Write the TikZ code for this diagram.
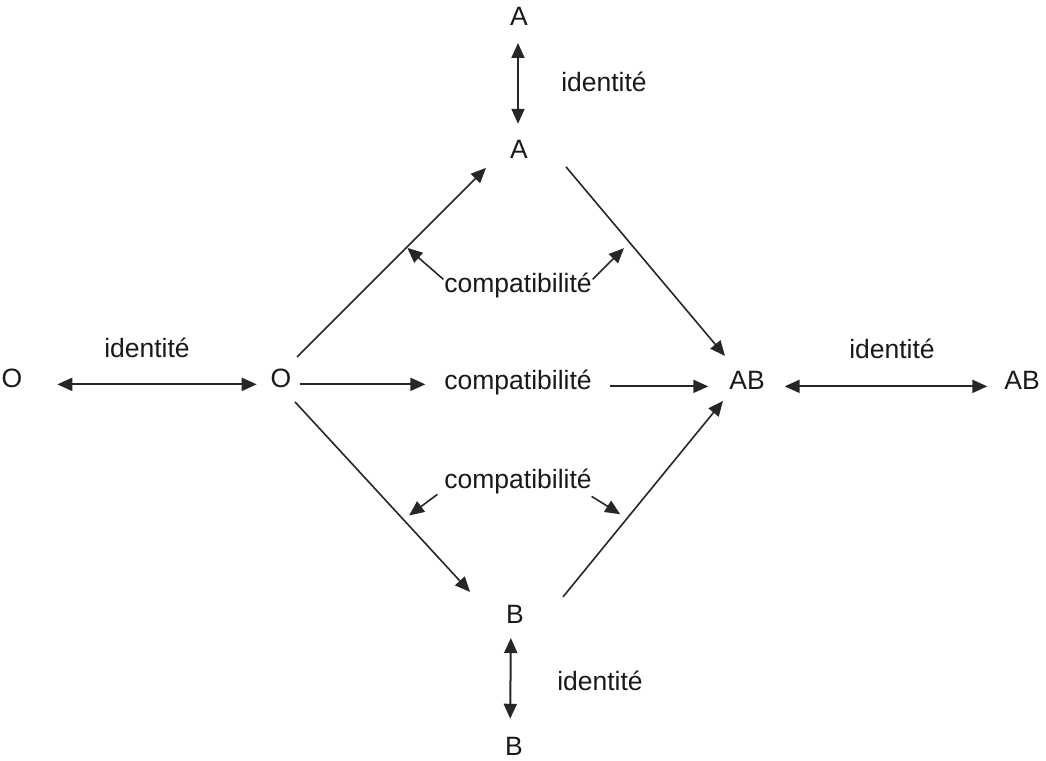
\documentclass[tikz,border=0pt]{standalone}
\usepackage{fontspec}
\setmainfont{Liberation Sans}
\usetikzlibrary{arrows.meta}
\begin{document}
\begin{tikzpicture}[x=1pt,y=-1pt,
  lbl/.style={inner sep=0pt, outer sep=0pt, anchor=base, font=\fontsize{26.5}{30}\selectfont, text=black!90},
  tip/.style={-{Triangle[length=15pt,width=13pt]}},
  dtip/.style={{Triangle[length=15pt,width=13pt]}-{Triangle[length=15pt,width=13pt]}},
  ln/.style={draw=black!85, line width=1.6pt},
  idl/.style={draw=black!85, line width=2pt},
]
\useasboundingbox (0,0) rectangle (1046,760);
% nodes
\node[lbl] (At) at (519,26) {A};
\node[lbl] (Am) at (519,158) {A};
\node[lbl] (Ol) at (12,387) {O};
\node[lbl] (Oc) at (281,387) {O};
\node[lbl] (cm) at (518,389) {compatibilité};
\node[lbl] (ABl) at (747,389) {AB};
\node[lbl] (ABr) at (1022,389) {AB};
\node[lbl] (Bm) at (515,623) {B};
\node[lbl] (Bb) at (514,755) {B};
\node[lbl] (cu) at (518,292) {compatibilité};
\node[lbl] (cl) at (518,488) {compatibilité};
\node[lbl] (it) at (604,92) {identité};
\node[lbl] (il) at (147,357) {identité};
\node[lbl] (ir) at (892,358) {identité};
\node[lbl] (ib) at (600,690) {identité};
% identity arrows
\draw[idl,dtip,shorten <=17pt,shorten >=16pt] ([xshift=-1pt]At.south) -- ([xshift=-1pt]Am.north);
\draw[idl,dtip,shorten <=15pt,shorten >=18pt] ([xshift=-4pt]Bm.south) -- ([xshift=-4pt]Bb.north);
\draw[idl,dtip,shorten <=35pt,shorten >=14pt] (Ol.mid east) -- (Oc.mid west);
\draw[idl,dtip,shorten <=20pt,shorten >=17pt] (ABl.mid east) -- (ABr.mid west);
% middle row
\draw[idl,tip,shorten <=9pt,shorten >=19pt] (Oc.mid east) -- (Oc.mid east -| cm.west);
\draw[idl,tip,shorten <=18pt,shorten >=21pt] (ABl.mid west -| cm.east) -- (ABl.mid west);
% diagonals
\draw[ln,tip] ([shift={(16,-21)}]Oc.center) -- coordinate[pos=0.58] (ua) ([shift={(-33,19)}]Am.center);
\draw[ln,tip] ([shift={(47,18)}]Am.center) -- coordinate[pos=0.40] (ub) ([shift={(-22,-24)}]ABl.center);
\draw[ln,tip] ([shift={(14,24)}]Oc.center) -- coordinate[pos=0.62] (la) ([shift={(-45,-22)}]Bm.center);
\draw[ln,tip] ([shift={(48,-17)}]Bm.center) -- coordinate[pos=0.40] (lb) ([shift={(-24,21)}]ABl.center);
% compatibility pointers
\draw[ln,tip,shorten >=1pt] ([shift={(-1,-10)}]cu.mid west) -- (ua);
\draw[ln,tip,shorten >=8pt] ([shift={(1,-10)}]cu.mid east) -- (ub);
\draw[ln,tip,shorten >=7pt] ([shift={(-7,9)}]cl.mid west) -- (la);
\draw[ln,tip,shorten >=8pt] ([shift={(0,11)}]cl.mid east) -- (lb);
\end{tikzpicture}
\end{document}
